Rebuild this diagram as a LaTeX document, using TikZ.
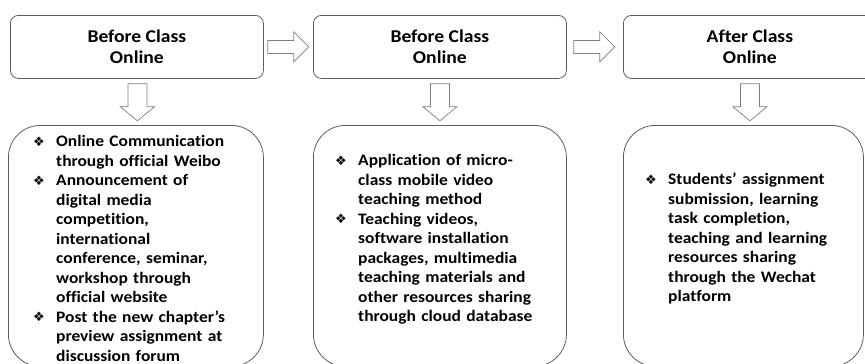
\documentclass[tikz,border=0pt]{standalone}
\usepackage{fontspec}
\setmainfont{Carlito}[FakeStretch=1.09, Ligatures=NoCommon]
\newfontfamily\symfont{DejaVu Sans}
\usetikzlibrary{calc}

\definecolor{boxline}{HTML}{5A5A5A}
\definecolor{arrowline}{HTML}{7F7F7F}

% bullet item with hanging indent
\newcommand{\itm}{\par\noindent\hangindent=23pt\hangafter=1\makebox[23pt][l]{\raisebox{0.3pt}{\symfont\fontsize{13}{13}\selectfont ❖}}}

\tikzset{
  titlebox/.style={draw=boxline, line width=0.8pt, rounded corners=8pt,
    minimum width=253pt, minimum height=63pt, anchor=north west, inner sep=0pt,
    align=center, font=\bfseries\fontsize{18}{21}\selectfont},
  itembox/.style={draw=boxline, line width=0.8pt, rounded corners=32pt,
    anchor=north west, inner sep=0pt},
  itemtext/.style={anchor=north west, inner sep=0pt, text width=240pt, align=left,
    font=\bfseries\fontsize{16}{19.5}\selectfont},
  blockarrow/.style={draw=arrowline, line width=0.7pt, fill=white},
  pics/rarrow/.style={code={
    \draw[blockarrow] (0,-6.5) -- (26,-6.5) -- (26,-15) -- (41,0) -- (26,15)
      -- (26,6.5) -- (0,6.5) -- cycle;}},
  pics/darrow/.style={code={
    \draw[blockarrow] (-9.5,0) -- (9.5,0) -- (9.5,23) -- (17,23) -- (0,37)
      -- (-17,23) -- (-9.5,23) -- cycle;}},
}

\begin{document}
\begin{tikzpicture}[x=1pt,y=-1pt]
  \useasboundingbox (0,0) rectangle (865,364);
  \clip (0,0) rectangle (865,364);

  % stage headers
  \node[titlebox] (t1) at (10,15) {Before Class\\Online};
  \node[titlebox] (t2) at (313,15) {Before Class\\Online};
  \node[titlebox, minimum width=260pt] (t3) at (623,15) {\hspace*{-7pt}After Class\\\hspace*{-7pt}Online};

  % activity panels
  \node[itembox, minimum width=255pt, minimum height=241pt] (b1) at (8,125) {};
  \node[itembox, minimum width=253pt, minimum height=241pt] (b2) at (313,125) {};
  \node[itembox, minimum width=240pt, minimum height=241pt] (b3) at (623,125) {};

  % arrows between the stages
  \pic at ($(t1.east)+(4,0)$) {rarrow};
  \pic at ($(t2.east)+(7,0)$) {rarrow};

  % arrows from headers to panels
  \pic at ($(t1.south)+(0.5,5)$) {darrow};
  \pic at ($(t2.south)+(0,5)$) {darrow};
  \pic at ($(t3.south)+(-3.5,5)$) {darrow};

  % panel contents
  \node[itemtext] (x1) at (33,127) {%
    \itm Online Communication\newline through official Weibo
    \itm Announcement of\newline digital media\newline competition,\newline international\newline conference, seminar,\newline workshop through\newline official website
    \itm Post the new chapter’s\newline preview assignment at\newline discussion forum\par};
  \node[itemtext] (x2) at (335,146) {%
    \itm Application of micro-\newline class mobile video\newline teaching method
    \itm Teaching videos,\newline software installation\newline packages, multimedia\newline teaching materials and\newline other resources sharing\newline through cloud database\par};
  \node[itemtext] (x3) at (645,165) {%
    \itm Students’ assignment\newline submission, learning\newline task completion,\newline teaching and learning\newline resources sharing\newline through the Wechat\newline platform\par};
\end{tikzpicture}
\end{document}
